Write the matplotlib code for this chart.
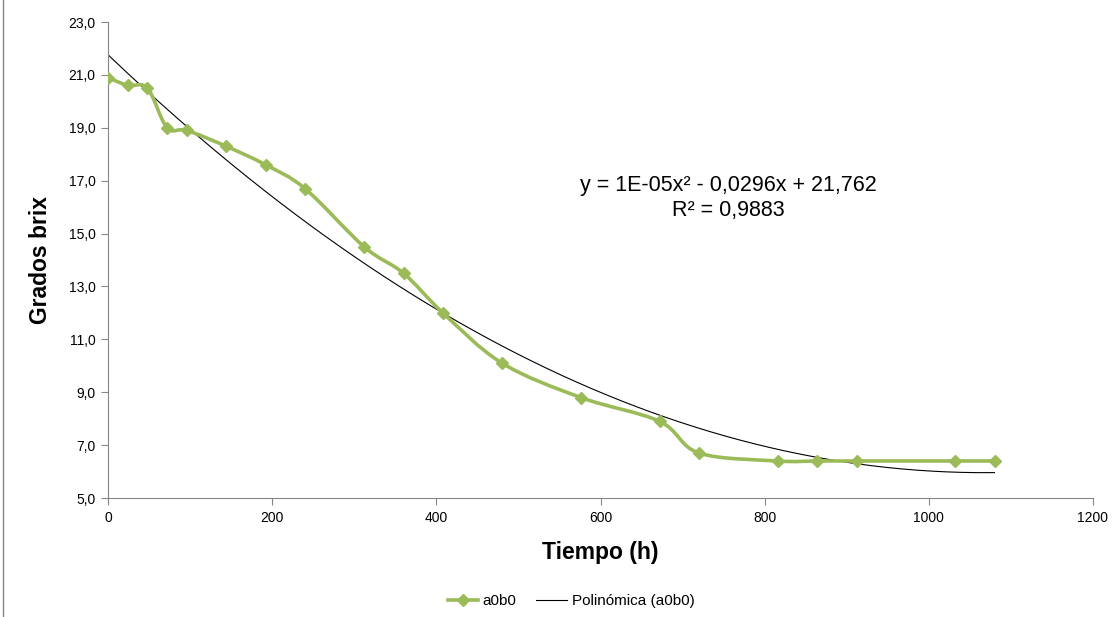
import numpy as np
import matplotlib.pyplot as plt
from matplotlib.path import Path
from matplotlib.patches import PathPatch
from matplotlib.lines import Line2D
from matplotlib.ticker import FuncFormatter

plt.rcParams['font.family'] = ['Liberation Sans', 'DejaVu Sans']

# tiempo (h) y grados brix, muestra a0b0
tiempo = [0, 24, 48, 72, 96, 144, 192, 240, 312, 360, 408, 480, 576, 672, 720, 816, 864, 912, 1032, 1080]
brix = [20.9, 20.6, 20.5, 19.0, 18.9, 18.3, 17.6, 16.7, 14.5, 13.5, 12.0, 10.1, 8.8, 7.9, 6.7, 6.4, 6.4, 6.4, 6.4, 6.4]

verde = '#9BBB59'


def smooth_path(x, y, t=1/6):
    """Excel-like smoothed line as cubic bezier segments (catmull-rom control points)."""
    x = np.asarray(x, float)
    y = np.asarray(y, float)
    pts = np.column_stack([x, y])
    n = len(pts)
    verts = [pts[0]]
    codes = [Path.MOVETO]
    for i in range(n - 1):
        p0 = pts[max(i - 1, 0)]
        p1 = pts[i]
        p2 = pts[i + 1]
        p3 = pts[min(i + 2, n - 1)]
        c1 = p1 + (p2 - p0) * t
        c2 = p2 - (p3 - p1) * t
        verts += [c1, c2, p2]
        codes += [Path.CURVE4] * 3
    return Path(verts, codes)


fig = plt.figure(figsize=(11.18, 6.17), dpi=100)
ax = fig.add_axes([108 / 1118, 1 - 498 / 617, (1093 - 108) / 1118, (498 - 22) / 617])

# serie suavizada con marcadores
ax.add_patch(PathPatch(smooth_path(tiempo, brix), fill=False, edgecolor=verde, lw=2.6, zorder=3))
ax.plot(tiempo, brix, ls='none', marker='D', ms=6.5, color=verde, zorder=4)

# linea de tendencia polinomica de orden 2
coef = np.polyfit(tiempo, brix, 2)
xt = np.linspace(min(tiempo), max(tiempo), 300)
ax.plot(xt, np.polyval(coef, xt), color='black', lw=0.8, zorder=2)

ax.set_xlim(0, 1200)
ax.set_ylim(5, 23)
ax.set_xticks(np.arange(0, 1201, 200))
ax.set_yticks(np.arange(5, 23.1, 2))
ax.yaxis.set_major_formatter(FuncFormatter(lambda v, p: f'{v:.1f}'.replace('.', ',')))
ax.tick_params(labelsize=10, direction='out', length=5, color='#868686', pad=4)
for s in ['top', 'right']:
    ax.spines[s].set_visible(False)
for s in ['left', 'bottom']:
    ax.spines[s].set_color('#868686')

ax.set_xlabel('Tiempo (h)', fontsize=16.5, fontweight='bold', labelpad=12)
ax.set_ylabel('Grados brix', fontsize=16.5, fontweight='bold', labelpad=12)

ax.text(756, 16.35, 'y = 1E-05x² - 0,0296x + 21,762\nR² = 0,9883', ha='center', va='center',
        fontsize=15.5, linespacing=1.25)

handles = [Line2D([], [], color=verde, lw=2.6, marker='D', ms=6),
           Line2D([], [], color='black', lw=0.8)]
fig.legend(handles, ['a0b0', 'Polinómica (a0b0)'], loc='center', bbox_to_anchor=(571 / 1118, 1 - 601 / 617),
           ncol=2, frameon=False, fontsize=11, handlelength=2, handletextpad=0.3, columnspacing=1.3)

# borde del area del grafico
fig.add_artist(Line2D([3 / 1118, 3 / 1118], [0, 1], color='#868686', lw=1))

fig.savefig('out.png', dpi=100)
